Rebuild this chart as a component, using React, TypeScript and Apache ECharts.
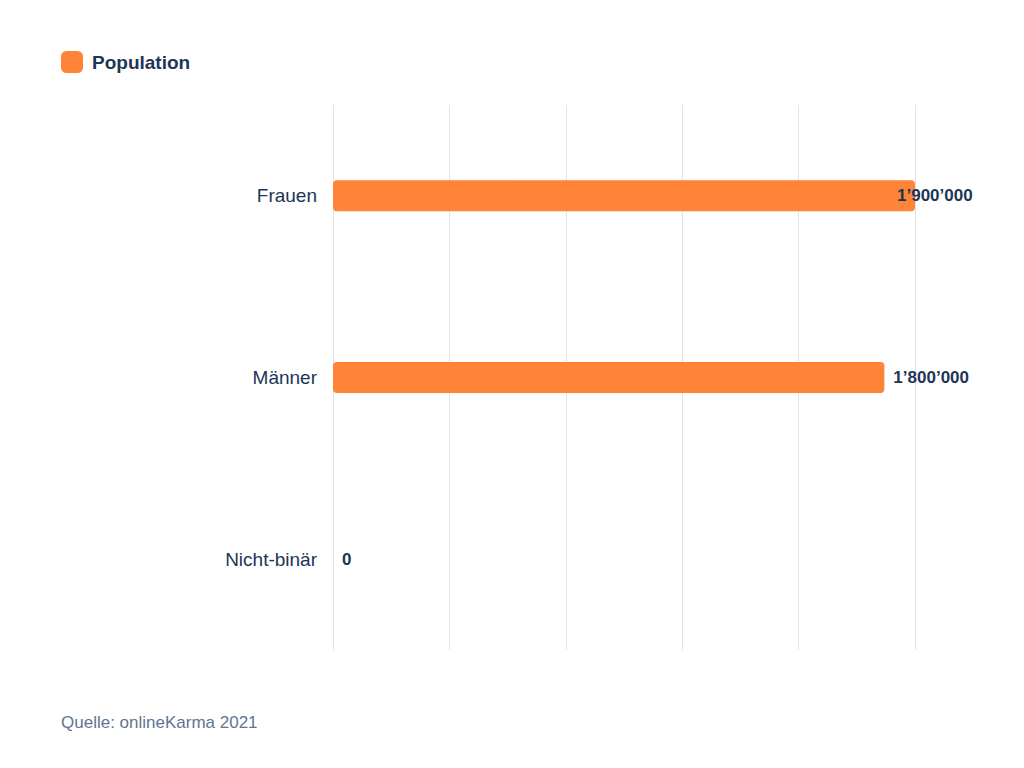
import { useEffect, useRef } from 'react';
import * as echarts from 'echarts';

const categories = ['Frauen', 'Männer', 'Nicht-binär'];
const population = [1900000, 1800000, 0];
const seriesName = 'Population';
const sourceText = 'Quelle: onlineKarma 2021';

const NAVY = '#1d3557';
const ORANGE = '#ff8438';
const FONT = 'Liberation Sans, Arial, sans-serif';

// 1900000 -> 1’900’000
const formatSwiss = (v: number) =>
  String(v).replace(/\B(?=(\d{3})+(?!\d))/g, '’');

export default function App() {
  const chartRef = useRef<HTMLDivElement>(null);

  useEffect(() => {
    if (!chartRef.current) return;
    const chart = echarts.init(chartRef.current, undefined, { renderer: 'svg' });

    const option: echarts.EChartsOption = {
      animation: false,
      backgroundColor: '#ffffff',
      textStyle: { fontFamily: FONT },
      legend: {
        data: [seriesName],
        left: 56,
        top: 46,
        itemWidth: 22,
        itemHeight: 22,
        itemGap: 8,
        icon: 'roundRect',
        textStyle: {
          color: NAVY,
          fontSize: 19,
          fontWeight: 'bold',
          fontFamily: FONT,
          padding: [0, 0, 0, 4],
        },
      },
      grid: {
        left: 333,
        right: 1024 - 915,
        top: 105,
        bottom: 768 - 650,
        containLabel: false,
      },
      xAxis: {
        type: 'value',
        min: 0,
        max: 1900000,
        interval: 380000,
        axisLabel: { show: false },
        axisLine: { show: false },
        axisTick: { show: false },
        splitLine: { show: true, lineStyle: { color: '#dfe4ee', width: 1 } },
      },
      yAxis: {
        type: 'category',
        inverse: true,
        data: categories,
        axisLine: { show: false },
        axisTick: { show: false },
        axisLabel: { color: NAVY, fontSize: 19, margin: 16, fontFamily: FONT },
      },
      series: [
        {
          name: seriesName,
          type: 'bar',
          barWidth: 31,
          itemStyle: { color: ORANGE, borderRadius: 4 },
          label: {
            show: true,
            position: 'right',
            distance: 9,
            color: NAVY,
            fontSize: 17,
            fontWeight: 'bold',
            fontFamily: FONT,
            formatter: (p: any) => formatSwiss(p.value),
          },
          data: population.map((v, i) =>
            i === 0 ? { value: v, label: { offset: [-27, 0] } } : v
          ),
        },
      ],
      graphic: [
        {
          type: 'text',
          left: 61,
          top: 714,
          style: {
            text: sourceText,
            fill: '#5f7592',
            fontSize: 17,
            fontFamily: FONT,
          },
        },
      ],
    };

    chart.setOption(option);
    return () => chart.dispose();
  }, []);

  return (
    <div
      ref={chartRef}
      style={{ position: 'absolute', left: 0, top: 0, width: '1024px', height: '768px' }}
    />
  );
}
